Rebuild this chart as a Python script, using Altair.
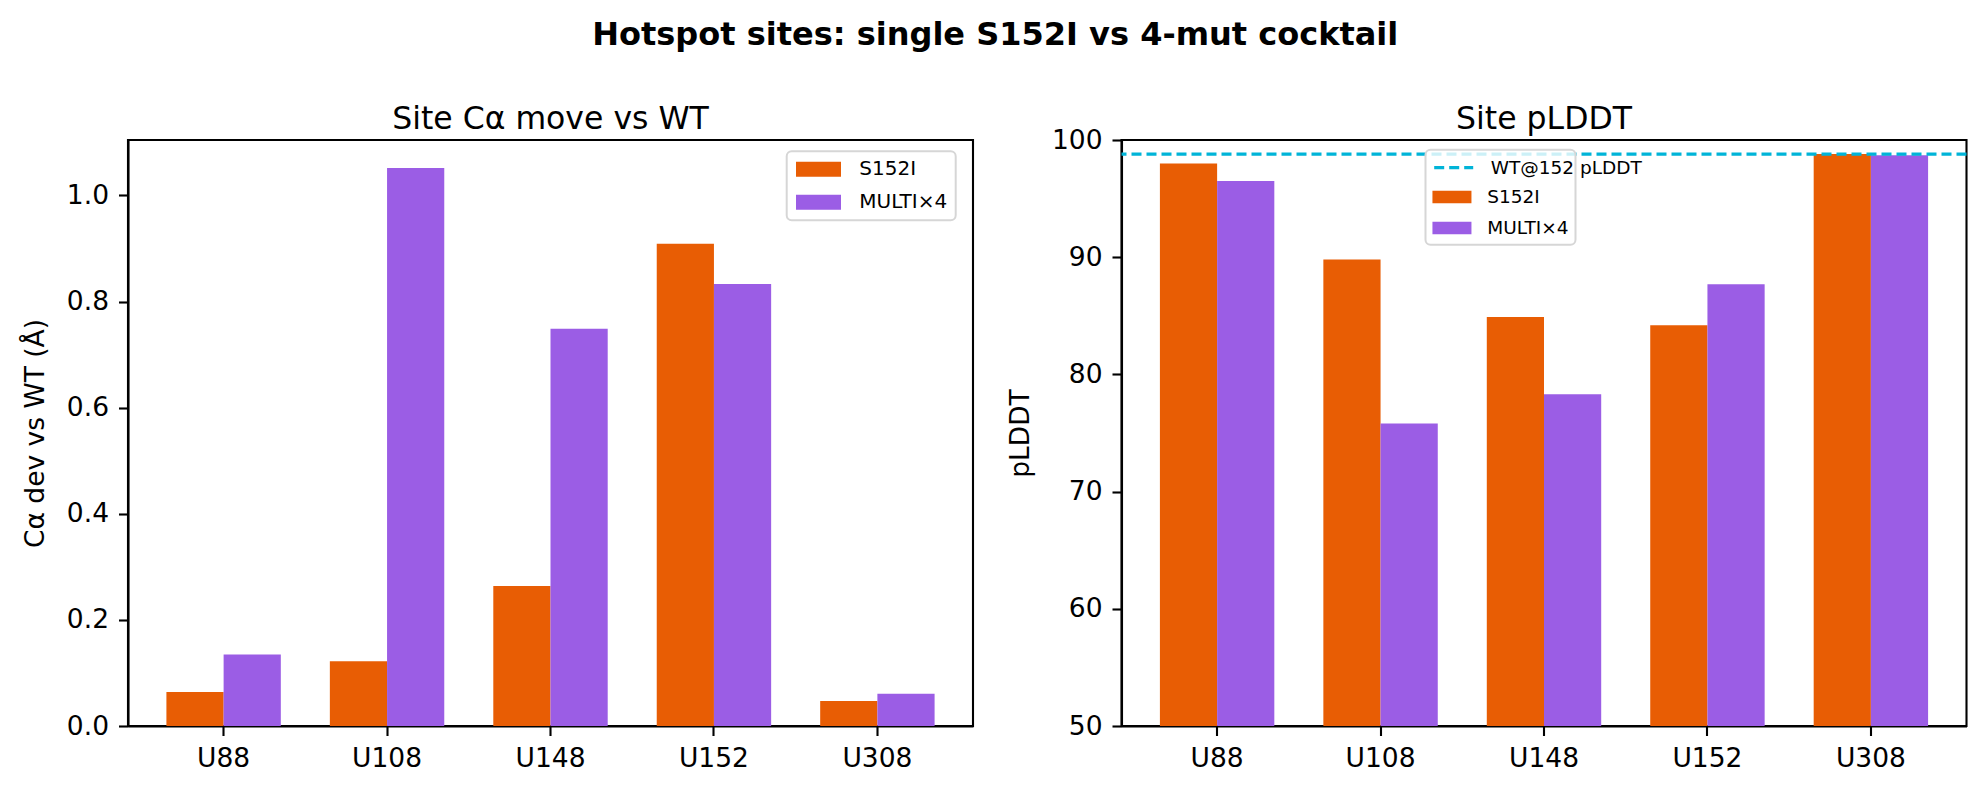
import altair as alt
import pandas as pd

# ---- data ----
sites = ["U88", "U108", "U148", "U152", "U308"]
series_names = ["S152I", "MULTI×4"]
ca_s152i = [0.064, 0.122, 0.264, 0.909, 0.047]
ca_multi = [0.135, 1.052, 0.749, 0.833, 0.061]
plddt_s152i = [98.0, 89.8, 84.9, 84.2, 98.8]
plddt_multi = [96.5, 75.8, 78.3, 87.7, 98.7]
wt_label = ["WT@152 pLDDT"]
wt_plddt = [98.8]
ca_ticks = [0.0, 0.2, 0.4, 0.6, 0.8, 1.0]
plddt_ticks = [50, 60, 70, 80, 90, 100]

bar_colors = ["#E85D04", "#9B5DE5"]
wt_color = "#00B4D8"
FONT = "DejaVu Sans"

ca_df = pd.DataFrame({
    "site": sites * 2,
    "series": [series_names[0]] * len(sites) + [series_names[1]] * len(sites),
    "value": ca_s152i + ca_multi,
})
pl_df = pd.DataFrame({
    "site": sites * 2,
    "series": [series_names[0]] * len(sites) + [series_names[1]] * len(sites),
    "value": plddt_s152i + plddt_multi,
})
wt_df = pd.DataFrame({"line": wt_label, "value": wt_plddt})

W, H = 845, 586

x_enc = alt.X("site:N", sort=sites,
              scale=alt.Scale(paddingInner=0.3, paddingOuter=0.235),
              axis=alt.Axis(title=None, labelAngle=0))
xoff_enc = alt.XOffset("series:N", sort=series_names,
                       scale=alt.Scale(domain=series_names, paddingInner=0, paddingOuter=0))

left_legend = alt.Legend(
    title=None, orient="none", legendX=658.7, legendY=11.3,
    fillColor="rgba(255,255,255,0.8)", strokeColor="#d6d6d6", cornerRadius=5,
    padding=8, labelFontSize=20, labelFont=FONT, labelColor="black",
    symbolType="M-2.25,-0.75H2.25V0.75H-2.25Z", symbolSize=400,
    symbolOffset=13.8, labelOffset=30.8, rowPadding=13,
    symbolStrokeWidth=0, symbolOpacity=1,
)

left = alt.Chart(ca_df).mark_bar().encode(
    x=x_enc,
    xOffset=xoff_enc,
    y=alt.Y("value:Q",
            scale=alt.Scale(domain=[0, 1.1046], nice=False, zero=True),
            axis=alt.Axis(title="Cα dev vs WT (Å)", values=ca_ticks, format=".1f")),
    color=alt.Color("series:N", sort=series_names,
                    scale=alt.Scale(domain=series_names, range=bar_colors),
                    legend=left_legend),
).properties(
    width=W, height=H,
    title=alt.Title("Site Cα move vs WT", fontSize=31.5, fontWeight="normal",
                    frame="group", baseline="alphabetic", offset=-20.9, anchor="middle",
                    font=FONT, color="black"),
)

# blank spacer title (non-breaking spaces) reserves the row for the WT entry
spacer_title = "\u00a0" * 38

right_bar_legend = alt.Legend(
    title=spacer_title, titleColor="transparent", titleFontSize=18.5,
    titleFont=FONT, titleFontWeight="normal", titlePadding=12.5, titleLimit=1000,
    orient="none", legendX=304, legendY=9.7,
    fillColor="rgba(255,255,255,0.8)", strokeColor="#d6d6d6", cornerRadius=5,
    padding=7, labelFontSize=18.5, labelFont=FONT, labelColor="black",
    symbolType="M-2.167,-0.7H2.167V0.7H-2.167Z", symbolSize=324,
    symbolOffset=10.2, labelOffset=26, rowPadding=12,
    symbolStrokeWidth=0, symbolOpacity=1, zindex=1,
)

right_bars = alt.Chart(pl_df).mark_bar(clip=True).encode(
    x=x_enc,
    xOffset=xoff_enc,
    y=alt.Y("value:Q",
            scale=alt.Scale(domain=[50, 100], nice=False, zero=False),
            axis=alt.Axis(title="pLDDT", values=plddt_ticks, format="d")),
    y2=alt.Y2(datum=50),
    color=alt.Color("series:N", sort=series_names,
                    scale=alt.Scale(domain=series_names, range=bar_colors),
                    legend=right_bar_legend),
)

wt_legend = alt.Legend(
    title=None, orient="none", legendX=304, legendY=9.7,
    padding=7, labelFontSize=18.5, labelFont=FONT, labelColor="black",
    symbolType="M-2.167,0H2.167", symbolSize=324,
    symbolOffset=10.2, labelOffset=26,
    symbolStrokeWidth=3.3, symbolStrokeColor=wt_color,
    symbolFillColor="transparent", zindex=2,
)

right_rule = alt.Chart(wt_df).mark_rule(color=wt_color, strokeWidth=3.3).encode(
    y=alt.Y("value:Q"),
    strokeDash=alt.StrokeDash("line:N",
                              scale=alt.Scale(domain=wt_label, range=[[10, 5]]),
                              legend=wt_legend),
)

right = alt.layer(right_bars, right_rule).properties(
    width=W, height=H,
    title=alt.Title("Site pLDDT", fontSize=31.5, fontWeight="normal",
                    frame="group", baseline="alphabetic", offset=-33.4, anchor="middle",
                    font=FONT, color="black"),
)

chart = alt.hconcat(left, right, spacing=30.5).resolve_scale(
    color="independent", strokeDash="independent",
).resolve_legend(
    color="independent", strokeDash="independent",
).properties(
    title=alt.Title("Hotspot sites: single S152I vs 4-mut cocktail", fontSize=32,
                    fontWeight="bold", anchor="middle", baseline="alphabetic",
                    offset=25.8, font=FONT, color="black"),
    padding={"left": 21, "top": 19, "right": 5, "bottom": 5},
    background="white",
).configure_view(
    stroke="black", strokeWidth=2.1,
).configure_axis(
    grid=False, domainColor="black", domainWidth=2.1,
    tickColor="black", tickWidth=2.1, tickSize=9.5,
    labelFont=FONT, labelFontSize=26.5, labelColor="black", labelPadding=10,
    titleFont=FONT, titleFontSize=26.5, titleFontWeight="normal", titleColor="black",
    titlePadding=17,
).configure_legend(
    strokeWidth=2,
)

chart.save("out.html", embed_options={"renderer": "svg", "actions": False})
